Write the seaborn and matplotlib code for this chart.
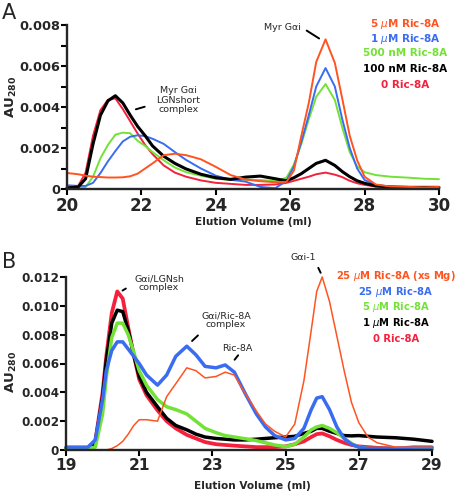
import matplotlib
matplotlib.use("Agg")
import matplotlib.pyplot as plt
import numpy as np
import pandas as pd
import seaborn as sns
from matplotlib.ticker import FixedLocator, FuncFormatter

# ---- panel A data (elution volume in ml, absorbance AU280) ----
vol_a = [20.0, 20.3, 20.5, 20.7, 20.9, 21.1, 21.3, 21.5, 21.7, 21.9, 22.1, 22.3,
         22.6, 22.9, 23.2, 23.6, 24.0, 24.4, 24.8, 25.2, 25.6, 25.9, 26.1, 26.3,
         26.5, 26.7, 26.95, 27.2, 27.4, 27.6, 27.8, 28.0, 28.3, 28.7, 29.2, 29.6, 30.0]
a_5um = [0.00078, 0.00072, 0.00065, 0.00060, 0.00058, 0.00056, 0.00056, 0.00057,
         0.00062, 0.00075, 0.00100, 0.00125, 0.00165, 0.00172, 0.00165, 0.00145,
         0.00108, 0.00068, 0.00046, 0.00038, 0.00033, 0.00035, 0.00090, 0.00260,
         0.00420, 0.00620, 0.00730, 0.00615, 0.00440, 0.00260, 0.00140, 0.00060,
         0.00022, 0.00012, 0.00010, 0.00008, 0.00010]
a_1um = [0.00018, 0.00015, 0.00015, 0.00030, 0.00078, 0.00135, 0.00185, 0.00232,
         0.00255, 0.00262, 0.00258, 0.00245, 0.00220, 0.00180, 0.00142, 0.00100,
         0.00065, 0.00045, 0.00036, 0.00010, 0.00004, 0.00040, 0.00110, 0.00230,
         0.00360, 0.00500, 0.00590, 0.00500, 0.00340, 0.00200, 0.00100, 0.00044,
         0.00020, 0.00010, 0.00008, 0.00008, 0.00008]
a_500nm = [0.00005, 0.00005, 0.00010, 0.00060, 0.00150, 0.00215, 0.00265, 0.00275,
           0.00272, 0.00235, 0.00210, 0.00180, 0.00140, 0.00105, 0.00082, 0.00065,
           0.00050, 0.00045, 0.00045, 0.00044, 0.00038, 0.00055, 0.00120, 0.00220,
           0.00340, 0.00450, 0.00512, 0.00434, 0.00300, 0.00180, 0.00110, 0.00082,
           0.00068, 0.00060, 0.00055, 0.00050, 0.00048]
a_100nm = [0.00005, 0.00010, 0.00050, 0.00220, 0.00360, 0.00430, 0.00455, 0.00420,
           0.00360, 0.00305, 0.00260, 0.00210, 0.00160, 0.00125, 0.00098, 0.00072,
           0.00055, 0.00047, 0.00058, 0.00063, 0.00050, 0.00040, 0.00055, 0.00075,
           0.00100, 0.00125, 0.00140, 0.00115, 0.00085, 0.00060, 0.00040, 0.00028,
           0.00015, 0.00010, 0.00008, 0.00008, 0.00008]
a_0 = [0.00005, 0.00015, 0.00080, 0.00260, 0.00385, 0.00435, 0.00442, 0.00390,
       0.00330, 0.00270, 0.00215, 0.00170, 0.00115, 0.00080, 0.00060, 0.00042,
       0.00030, 0.00025, 0.00020, 0.00020, 0.00022, 0.00030, 0.00040, 0.00050,
       0.00060, 0.00072, 0.00080, 0.00070, 0.00058, 0.00040, 0.00028, 0.00020,
       0.00012, 0.00010, 0.00008, 0.00006, 0.00008]

# ---- panel B data ----
vol_b = [19.0, 19.3, 19.6, 19.8, 20.0, 20.1, 20.25, 20.4, 20.55, 20.7, 20.85, 21.0,
         21.2, 21.5, 21.75, 22.0, 22.3, 22.55, 22.8, 23.1, 23.35, 23.6, 23.9, 24.2,
         24.45, 24.7, 25.0, 25.25, 25.5, 25.7, 25.85, 26.0, 26.2, 26.4, 26.6, 26.8,
         27.0, 27.25, 27.5, 28.0, 28.5, 29.0]
b_25um_mg = [0.0, 0.0, 0.0, 0.0, 0.0, 0.0, 0.0001, 0.0003, 0.0006, 0.0011, 0.0017,
             0.0021, 0.0021, 0.0020, 0.0037, 0.0046, 0.0057, 0.0055, 0.0050, 0.0051,
             0.0054, 0.0052, 0.0039, 0.0027, 0.0018, 0.0013, 0.0009, 0.0018, 0.0048,
             0.0083, 0.0110, 0.0120, 0.0103, 0.0079, 0.0055, 0.0033, 0.0019, 0.0009,
             0.0005, 0.0002, 0.0002, 0.0002]
b_25um = [0.0002, 0.0002, 0.0002, 0.0007, 0.0035, 0.0055, 0.0069, 0.0075, 0.0075,
          0.0070, 0.0065, 0.0060, 0.0052, 0.0045, 0.0052, 0.0065, 0.0072, 0.0066,
          0.0058, 0.0057, 0.0059, 0.0054, 0.0039, 0.0025, 0.0016, 0.0010, 0.0007,
          0.0008, 0.0015, 0.0028, 0.0036, 0.0037, 0.0028, 0.0016, 0.0008, 0.0004,
          0.0002, 0.0001, 0.0001, 0.0001, 0.0002, 0.0002]
b_5um = [0.0001, 0.0001, 0.0001, 0.0002, 0.0025, 0.0050, 0.0078, 0.0088, 0.0088,
         0.0080, 0.0068, 0.0055, 0.0045, 0.0035, 0.0030, 0.0028, 0.0025, 0.0020,
         0.0015, 0.0012, 0.0010, 0.0009, 0.00078, 0.00065, 0.0005, 0.00035, 0.00023,
         0.0004, 0.0009, 0.0014, 0.0016, 0.0017, 0.0015, 0.0012, 0.0008, 0.00045,
         0.0002, 0.0001, 0.0001, 0.0001, 0.0001, 0.0001]
b_1um = [0.0001, 0.0001, 0.00015, 0.0005, 0.0037, 0.0062, 0.0088, 0.0097, 0.0096,
         0.0083, 0.0066, 0.0051, 0.0040, 0.0030, 0.0022, 0.0017, 0.0014, 0.0011,
         0.0009, 0.0008, 0.00075, 0.0007, 0.0007, 0.00075, 0.0008, 0.00085, 0.0009,
         0.00095, 0.00115, 0.0013, 0.0015, 0.0015, 0.0013, 0.00115, 0.0010, 0.00098,
         0.0010, 0.00095, 0.0009, 0.00085, 0.00075, 0.0006]
b_0 = [0.0001, 0.0001, 0.00015, 0.0006, 0.0040, 0.0065, 0.0095, 0.0110, 0.0105,
       0.0085, 0.0066, 0.0049, 0.0038, 0.00275, 0.0020, 0.0015, 0.00105, 0.0008,
       0.00055, 0.0004, 0.00035, 0.0003, 0.00025, 0.0002, 0.0002, 0.0002, 0.00025,
       0.0004, 0.0006, 0.0009, 0.0011, 0.00115, 0.00095, 0.0007, 0.0005, 0.00035,
       0.00025, 0.0002, 0.00015, 0.00012, 0.0001, 0.0001]

labels_a = ["5 $\\mu$M Ric-8A", "1 $\\mu$M Ric-8A", "500 nM Ric-8A",
            "100 nM Ric-8A", "0 Ric-8A"]
labels_b = ["25 $\\mu$M Ric-8A (xs Mg)", "25 $\\mu$M Ric-8A", "5 $\\mu$M Ric-8A",
            "1 $\\mu$M Ric-8A", "0 Ric-8A"]

ORANGE = "#ff5420"
BLUE = "#3a6cf2"
GREEN = "#72e236"
BLACK = "#000000"
RED = "#f5203c"

sns.set_style("ticks")
plt.rcParams["font.family"] = ["DejaVu Sans"]
plt.rcParams["mathtext.default"] = "it"

W, H = 460, 491


def fx(x):
    return x / W


def fy(y):
    return 1 - y / H


def style_axis(ax, xlim, ylim, xticks, yticks, xsize, ysize, minor_y=None):
    ax.set_xlim(*xlim)
    ax.set_ylim(*ylim)
    for side in ["top", "right"]:
        ax.spines[side].set_visible(False)
    for side in ["left", "bottom"]:
        ax.spines[side].set_linewidth(1.7)
    ax.set_xticks(xticks)
    ax.set_yticks(yticks)
    ax.xaxis.set_major_formatter(FuncFormatter(lambda v, p: f"{v:g}"))
    ax.yaxis.set_major_formatter(
        FuncFormatter(lambda v, p: "0" if abs(v) < 1e-9 else f"{v:.3f}"))
    if minor_y is not None:
        ax.yaxis.set_minor_locator(FixedLocator(minor_y))
    ax.tick_params(axis="both", which="both", direction="out", length=4,
                   width=1.5, color="black")
    ax.tick_params(axis="x", labelsize=xsize, pad=1.5)
    ax.tick_params(axis="y", labelsize=ysize, pad=1)
    for lab in ax.get_xticklabels() + ax.get_yticklabels():
        lab.set_fontweight("bold")
    ax.set_xlabel("")
    ax.set_ylabel("")


fig = plt.figure(figsize=(W / 100, H / 100), dpi=100)

# ---------------- Panel A ----------------
axA = fig.add_axes([fx(67), fy(189), fx(439 - 67), (189 - 25) / H])
series_a = [
    (a_0, RED, 1.4),
    (a_500nm, GREEN, 1.4),
    (a_1um, BLUE, 1.4),
    (a_100nm, BLACK, 2.2),
    (a_5um, ORANGE, 1.4),
]
for vals, col, lw in series_a:
    df = pd.DataFrame({"vol": vol_a, "au": vals})
    sns.lineplot(data=df, x="vol", y="au", ax=axA, color=col, lw=lw,
                 clip_on=False)
style_axis(axA, (20, 30), (0, 0.008), [20, 22, 24, 26, 28, 30],
           [0, 0.002, 0.004, 0.006, 0.008], 12, 9.3,
           minor_y=[0.001, 0.003, 0.005, 0.007])

axA.text(23.0, 0.00434, "Myr G\u03b1i\nLGNshort\ncomplex", ha="center",
         va="center", fontsize=6.8, linespacing=1.05)
axA.annotate("", xy=(21.78, 0.00385), xytext=(22.16, 0.00405),
             arrowprops=dict(arrowstyle="-", lw=1.4, color="black"))
axA.text(25.8, 0.0079, "Myr G\u03b1i", ha="center", va="center", fontsize=6.8)
axA.annotate("", xy=(26.84, 0.00727), xytext=(26.38, 0.0078),
             arrowprops=dict(arrowstyle="-", lw=1.4, color="black"),
             annotation_clip=False)

leg_y_a = [24, 38.5, 53.5, 69, 85]
for txt, col, yy in zip(labels_a, [ORANGE, BLUE, GREEN, BLACK, RED], leg_y_a):
    fig.text(fx(405), fy(yy), txt, color=col, ha="center", va="center",
             fontsize=7.5, fontweight="bold")

fig.text(fx(2), fy(13), "A", fontsize=15, va="center", ha="left")
fig.text(fx(11), fy(97), "$\\mathbf{AU_{280}}$", rotation=90, fontsize=9.5,
         ha="center", va="center")
fig.text(fx(253), fy(222), "Elution Volume (ml)", ha="center", va="center",
         fontsize=7.6, fontweight="bold")

# ---------------- Panel B ----------------
axB = fig.add_axes([fx(66), fy(450), fx(432 - 66), (450 - 277) / H])
series_b = [
    (b_0, RED, 2.7),
    (b_1um, BLACK, 2.5),
    (b_5um, GREEN, 2.5),
    (b_25um, BLUE, 2.5),
    (b_25um_mg, ORANGE, 1.1),
]
for vals, col, lw in series_b:
    df = pd.DataFrame({"vol": vol_b, "au": vals})
    sns.lineplot(data=df, x="vol", y="au", ax=axB, color=col, lw=lw,
                 clip_on=False)
style_axis(axB, (19, 29), (0, 0.012), [19, 21, 23, 25, 27, 29],
           [0, 0.002, 0.004, 0.006, 0.008, 0.010, 0.012], 11.2, 8.6)

axB.text(21.54, 0.01157, "G\u03b1i/LGNsh\ncomplex", ha="center", va="center",
         fontsize=6.8, linespacing=1.0)
axB.annotate("", xy=(20.48, 0.01096), xytext=(20.70, 0.0113),
             arrowprops=dict(arrowstyle="-", lw=1.4, color="black"),
             annotation_clip=False)
axB.text(23.37, 0.0090, "G\u03b1i/Ric-8A\ncomplex", ha="center", va="center",
         fontsize=6.8, linespacing=1.0)
axB.annotate("", xy=(22.39, 0.00743), xytext=(22.66, 0.00808),
             arrowprops=dict(arrowstyle="-", lw=1.4, color="black"))
axB.text(23.67, 0.00706, "Ric-8A", ha="center", va="center", fontsize=6.8)
axB.annotate("", xy=(23.56, 0.00611), xytext=(23.75, 0.00672),
             arrowprops=dict(arrowstyle="-", lw=1.4, color="black"))
axB.text(25.48, 0.01337, "G\u03b1i-1", ha="center", va="center", fontsize=6.8,
         clip_on=False)
axB.annotate("", xy=(25.99, 0.01212), xytext=(25.86, 0.01281),
             arrowprops=dict(arrowstyle="-", lw=1.4, color="black"),
             annotation_clip=False)

leg_y_b = [276, 292, 307.5, 323, 338.5]
for txt, col, yy in zip(labels_b, [ORANGE, BLUE, GREEN, BLACK, RED], leg_y_b):
    fig.text(fx(396), fy(yy), txt, color=col, ha="center", va="center",
             fontsize=7.2, fontweight="bold")

fig.text(fx(2), fy(262), "B", fontsize=15, va="center", ha="left")
fig.text(fx(11), fy(372), "$\\mathbf{AU_{280}}$", rotation=90, fontsize=9.5,
         ha="center", va="center")
fig.text(fx(252), fy(486), "Elution Volume (ml)", ha="center", va="center",
         fontsize=7.6, fontweight="bold")

fig.savefig("out.png", dpi=100)
